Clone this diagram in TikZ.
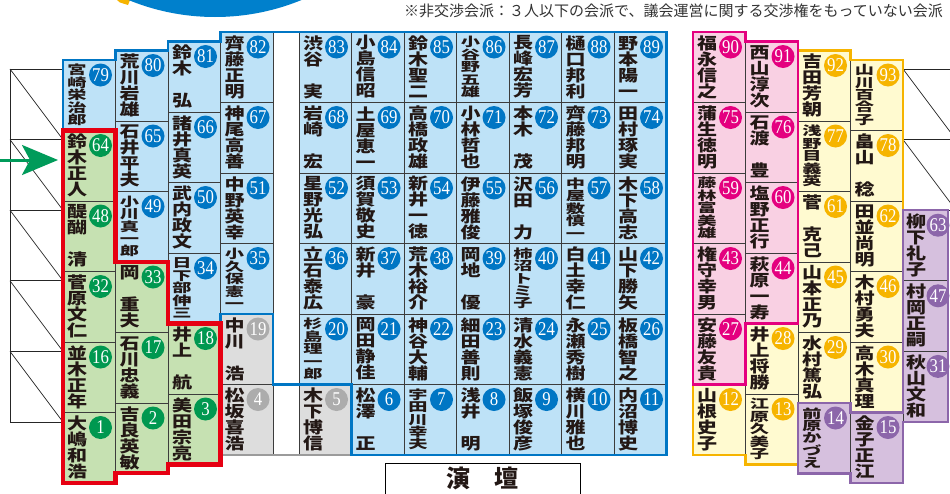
\documentclass[tikz,border=0pt]{standalone}
\usepackage{fontspec}
\usetikzlibrary{arrows.meta}
\newfontfamily\jpn{Noto Sans CJK JP}[FakeStretch=1.25]
\newfontfamily\jpf{Noto Sans CJK JP}[FakeStretch=1.55]
\newfontfamily\jpp{Noto Sans CJK JP}
\newfontfamily\numf{Liberation Serif}[FakeStretch=0.86]
\definecolor{fbl}{RGB}{190,226,247}
\definecolor{cbl}{RGB}{0,118,196}
\definecolor{fgr}{RGB}{198,225,178}
\definecolor{cgr}{RGB}{0,152,80}
\definecolor{fgy}{RGB}{221,221,221}
\definecolor{cgy}{RGB}{172,172,172}
\definecolor{fpk}{RGB}{249,208,227}
\definecolor{cpk}{RGB}{228,0,127}
\definecolor{fyl}{RGB}{255,250,208}
\definecolor{cyl}{RGB}{246,180,0}
\definecolor{fpu}{RGB}{214,192,222}
\definecolor{cpu}{RGB}{140,102,170}
\definecolor{lnred}{RGB}{230,0,18}
\definecolor{cellln}{RGB}{60,60,60}
\definecolor{inkc}{RGB}{35,24,21}
\definecolor{arrg}{RGB}{0,155,90}
\definecolor{topbl}{RGB}{0,128,204}
\tikzset{
  cell/.style={draw=cellln, line width=0.8pt, minimum width=52.5, minimum height=70.5, inner sep=0, outer sep=0},
  sbl/.style={cell, fill=fbl}, sgr/.style={cell, fill=fgr}, sgy/.style={cell, fill=fgy},
  spk/.style={cell, fill=fpk}, syl/.style={cell, fill=fyl}, spu/.style={cell, fill=fpu},
  nm/.style={align=center, inner sep=0, text=inkc, font=\jpn\bfseries\fontsize{16}{16}\selectfont},
  nmf/.style={align=center, inner sep=0, text=inkc, font=\jpf\bfseries\fontsize{12.4}{12.4}\selectfont},
  num/.style={circle, inner sep=0, minimum size=23, text=white, font=\numf\fontsize{19.5}{19.5}\selectfont},
  hatch/.style={draw=black!85, line width=0.7pt},
  outl/.style={line width=2.2pt, line join=miter},
}
% #1 x left, #2 column top, #3 row, #4 number, #5 kind, #6 name style, #7 name
\newcommand\mkseat[7]{%
  \node[s#5] (c#4) at ({#1+26.25},{#2+(#3-1)*70.5+35.25}) {};
  \node[#6] (t#4) at ({#1+14},{#2+(#3-1)*70.5+35}) {#7};
  \node[num, fill=c#5] (n#4) at ({#1+37.5},{#2+(#3-1)*70.5+15}) {#4};
}
\begin{document}
\begin{tikzpicture}[x=1pt,y=-1pt]
\useasboundingbox (0,0) rectangle (950,493);
\clip (0,0) rectangle (950,493);
\fill[white] (0,0) rectangle (950,493);
% top decoration
\fill[cyl] (117,0) -- (130,0) -- (128,5) -- (120,2.5) -- cycle;
\fill[topbl] (215,-211) circle[radius=228pt];
% hatched side boxes
\foreach \k in {0,...,4} {
  \draw[hatch] (10,{69+\k*70.6}) rectangle (63,{69+(\k+1)*70.6});
  \draw[hatch] (10,{69+\k*70.6}) -- (63,{69+(\k+1)*70.6});
}
\foreach \k in {0,1} {
  \draw[hatch] (903,{69+\k*70.6}) rectangle (956,{69+(\k+1)*70.6});
  \draw[hatch] (903,{69+\k*70.6}) -- (956,{69+(\k+1)*70.6});
}
% arrow
\coordinate (arrS) at (0,160);
\coordinate (arrE) at (58,160);
\draw[arrg, line width=3pt, -{Stealth[length=36pt,width=30pt,inset=8pt]}] (arrS) -- (arrE);
% column A
\mkseat{63}{60}{1}{79}{bl}{nmf}{宮\\崎\\栄\\治\\郎}
\mkseat{63}{60}{2}{64}{gr}{nm}{鈴\\木\\正\\人}
\mkseat{63}{60}{3}{48}{gr}{nm}{醍\\醐\\　\\清}
\mkseat{63}{60}{4}{32}{gr}{nm}{菅\\原\\文\\仁}
\mkseat{63}{60}{5}{16}{gr}{nm}{並\\木\\正\\年}
\mkseat{63}{60}{6}{1}{gr}{nm}{大\\嶋\\和\\浩}
% column B
\mkseat{115.5}{50.5}{1}{80}{bl}{nm}{荒\\川\\岩\\雄}
\mkseat{115.5}{50.5}{2}{65}{bl}{nm}{石\\井\\平\\夫}
\mkseat{115.5}{50.5}{3}{49}{bl}{nmf}{小\\川\\真\\一\\郎}
\mkseat{115.5}{50.5}{4}{33}{gr}{nm}{岡\\　\\重\\夫}
\mkseat{115.5}{50.5}{5}{17}{gr}{nm}{石\\川\\忠\\義}
\mkseat{115.5}{50.5}{6}{2}{gr}{nm}{吉\\良\\英\\敏}
% column C
\mkseat{168}{41.5}{1}{81}{bl}{nm}{鈴\\木\\　\\弘}
\mkseat{168}{41.5}{2}{66}{bl}{nm}{諸\\井\\真\\英}
\mkseat{168}{41.5}{3}{50}{bl}{nm}{武\\内\\政\\文}
\mkseat{168}{41.5}{4}{34}{bl}{nmf}{日\\下\\部\\伸\\三}
\mkseat{168}{41.5}{5}{18}{gr}{nm}{井\\上\\　\\航}
\mkseat{168}{41.5}{6}{3}{gr}{nm}{美\\田\\宗\\亮}
% column D
\mkseat{220.5}{32}{1}{82}{bl}{nm}{齊\\藤\\正\\明}
\mkseat{220.5}{32}{2}{67}{bl}{nm}{神\\尾\\高\\善}
\mkseat{220.5}{32}{3}{51}{bl}{nm}{中\\野\\英\\幸}
\mkseat{220.5}{32}{4}{35}{bl}{nmf}{小\\久\\保\\憲\\一}
\mkseat{220.5}{32}{5}{19}{gy}{nm}{中\\川\\　\\浩}
\mkseat{220.5}{32}{6}{4}{gy}{nm}{松\\坂\\喜\\浩}
% column E
\mkseat{299}{32}{1}{83}{bl}{nm}{渋\\谷\\　\\実}
\mkseat{299}{32}{2}{68}{bl}{nm}{岩\\崎\\　\\宏}
\mkseat{299}{32}{3}{52}{bl}{nm}{星\\野\\光\\弘}
\mkseat{299}{32}{4}{36}{bl}{nm}{立\\石\\泰\\広}
\mkseat{299}{32}{5}{20}{bl}{nmf}{杉\\島\\理\\一\\郎}
\mkseat{299}{32}{6}{5}{gy}{nm}{木\\下\\博\\信}
% column F
\mkseat{351.5}{32}{1}{84}{bl}{nm}{小\\島\\信\\昭}
\mkseat{351.5}{32}{2}{69}{bl}{nm}{土\\屋\\恵\\一}
\mkseat{351.5}{32}{3}{53}{bl}{nm}{須\\賀\\敬\\史}
\mkseat{351.5}{32}{4}{37}{bl}{nm}{新\\井\\　\\豪}
\mkseat{351.5}{32}{5}{21}{bl}{nm}{岡\\田\\静\\佳}
\mkseat{351.5}{32}{6}{6}{bl}{nm}{松\\澤\\　\\正}
% column G
\mkseat{404}{32}{1}{85}{bl}{nm}{鈴\\木\\聖\\二}
\mkseat{404}{32}{2}{70}{bl}{nm}{高\\橋\\政\\雄}
\mkseat{404}{32}{3}{54}{bl}{nm}{新\\井\\一\\徳}
\mkseat{404}{32}{4}{38}{bl}{nm}{荒\\木\\裕\\介}
\mkseat{404}{32}{5}{22}{bl}{nm}{神\\谷\\大\\輔}
\mkseat{404}{32}{6}{7}{bl}{nmf}{宇\\田\\川\\幸\\夫}
% column H
\mkseat{456.5}{32}{1}{86}{bl}{nmf}{小\\谷\\野\\五\\雄}
\mkseat{456.5}{32}{2}{71}{bl}{nm}{小\\林\\哲\\也}
\mkseat{456.5}{32}{3}{55}{bl}{nm}{伊\\藤\\雅\\俊}
\mkseat{456.5}{32}{4}{39}{bl}{nm}{岡\\地\\　\\優}
\mkseat{456.5}{32}{5}{23}{bl}{nm}{細\\田\\善\\則}
\mkseat{456.5}{32}{6}{8}{bl}{nm}{浅\\井\\　\\明}
% column I
\mkseat{509}{32}{1}{87}{bl}{nm}{長\\峰\\宏\\芳}
\mkseat{509}{32}{2}{72}{bl}{nm}{本\\木\\　\\茂}
\mkseat{509}{32}{3}{56}{bl}{nm}{沢\\田\\　\\力}
\mkseat{509}{32}{4}{40}{bl}{nmf}{柿\\沼\\ト\\ミ\\子}
\mkseat{509}{32}{5}{24}{bl}{nm}{清\\水\\義\\憲}
\mkseat{509}{32}{6}{9}{bl}{nm}{飯\\塚\\俊\\彦}
% column J
\mkseat{561.5}{32}{1}{88}{bl}{nm}{樋\\口\\邦\\利}
\mkseat{561.5}{32}{2}{73}{bl}{nm}{齊\\藤\\邦\\明}
\mkseat{561.5}{32}{3}{57}{bl}{nmf}{中\\屋\\敷\\慎\\一}
\mkseat{561.5}{32}{4}{41}{bl}{nm}{白\\土\\幸\\仁}
\mkseat{561.5}{32}{5}{25}{bl}{nm}{永\\瀬\\秀\\樹}
\mkseat{561.5}{32}{6}{10}{bl}{nm}{横\\川\\雅\\也}
% column K
\mkseat{614}{32}{1}{89}{bl}{nm}{野\\本\\陽\\一}
\mkseat{614}{32}{2}{74}{bl}{nm}{田\\村\\琢\\実}
\mkseat{614}{32}{3}{58}{bl}{nm}{木\\下\\高\\志}
\mkseat{614}{32}{4}{42}{bl}{nm}{山\\下\\勝\\矢}
\mkseat{614}{32}{5}{26}{bl}{nm}{板\\橋\\智\\之}
\mkseat{614}{32}{6}{11}{bl}{nm}{内\\沼\\博\\史}
% column L
\mkseat{693}{32}{1}{90}{pk}{nm}{福\\永\\信\\之}
\mkseat{693}{32}{2}{75}{pk}{nm}{蒲\\生\\徳\\明}
\mkseat{693}{32}{3}{59}{pk}{nmf}{藤\\林\\富\\美\\雄}
\mkseat{693}{32}{4}{43}{pk}{nm}{権\\守\\幸\\男}
\mkseat{693}{32}{5}{27}{pk}{nm}{安\\藤\\友\\貴}
\mkseat{693}{32}{6}{12}{yl}{nm}{山\\根\\史\\子}
% column M
\mkseat{745.5}{41.5}{1}{91}{pk}{nm}{西\\山\\淳\\次}
\mkseat{745.5}{41.5}{2}{76}{pk}{nm}{石\\渡\\　\\豊}
\mkseat{745.5}{41.5}{3}{60}{pk}{nm}{塩\\野\\正\\行}
\mkseat{745.5}{41.5}{4}{44}{pk}{nm}{萩\\原\\一\\寿}
\mkseat{745.5}{41.5}{5}{28}{yl}{nm}{井\\上\\将\\勝}
\mkseat{745.5}{41.5}{6}{13}{yl}{nmf}{江\\原\\久\\美\\子}
% column N
\mkseat{798}{50.5}{1}{92}{yl}{nm}{吉\\田\\芳\\朝}
\mkseat{798}{50.5}{2}{77}{yl}{nmf}{浅\\野\\目\\義\\英}
\mkseat{798}{50.5}{3}{61}{yl}{nm}{菅\\　\\克\\己}
\mkseat{798}{50.5}{4}{45}{yl}{nm}{山\\本\\正\\乃}
\mkseat{798}{50.5}{5}{29}{yl}{nm}{水\\村\\篤\\弘}
\mkseat{798}{50.5}{6}{14}{pu}{nmf}{前\\原\\か\\づ\\え}
% column O
\mkseat{850.5}{60}{1}{93}{yl}{nmf}{山\\川\\百\\合\\子}
\mkseat{850.5}{60}{2}{78}{yl}{nm}{畠\\山\\　\\稔}
\mkseat{850.5}{60}{3}{62}{yl}{nm}{田\\並\\尚\\明}
\mkseat{850.5}{60}{4}{46}{yl}{nm}{木\\村\\勇\\夫}
\mkseat{850.5}{60}{5}{30}{yl}{nm}{高\\木\\真\\理}
\mkseat{850.5}{60}{6}{15}{pu}{nm}{金\\子\\正\\江}
% column P
\node[spu, minimum width=45, minimum height=70.6] (c63) at (925.5,245.5) {};
\node[nm] (t63) at (916,245.3) {柳\\下\\礼\\子};
\node[num, fill=cpu] (n63) at (938,225.2) {63};
\node[spu, minimum width=45, minimum height=70.6] (c47) at (925.5,316.1) {};
\node[nm] (t47) at (916,315.9) {村\\岡\\正\\嗣};
\node[num, fill=cpu] (n47) at (938,295.8) {47};
\node[spu, minimum width=45, minimum height=70.6] (c31) at (925.5,386.7) {};
\node[nm] (t31) at (916,386.5) {秋\\山\\文\\和};
\node[num, fill=cpu] (n31) at (938,366.4) {31};
% group outlines
\draw[outl, draw=cgy!90!black] (220.5,314) -- (273,314) -- (273,384.5) -- (351.5,384.5) -- (351.5,455) -- (220.5,455) -- cycle;
\draw[outl, draw=cbl] (63,60) -- (115.5,60) -- (115.5,50.5) -- (168,50.5) -- (168,41.5) -- (220.5,41.5) -- (220.5,32) -- (666.5,32) -- (666.5,455) -- (351.5,455) -- (351.5,384.5) -- (273,384.5) -- (273,314) -- (220.5,314) -- (220.5,323.5) -- (168,323.5) -- (168,262) -- (115.5,262) -- (115.5,130.5) -- (63,130.5) -- cycle;
\draw[line width=4.5pt, line join=miter, draw=lnred] (63,130.5) -- (115.5,130.5) -- (115.5,262) -- (168,262) -- (168,323.5) -- (220.5,323.5) -- (220.5,464.5) -- (168,464.5) -- (168,473) -- (115.5,473) -- (115.5,483) -- (63,483) -- cycle;
\draw[outl, draw=cyl] (798,50.5) -- (850.5,50.5) -- (850.5,60) -- (903,60) -- (903,412.5) -- (850.5,412.5) -- (850.5,403) -- (798,403) -- (798,464.5) -- (745.5,464.5) -- (745.5,455) -- (693,455) -- (693,384.5) -- (745.5,384.5) -- (745.5,323.5) -- (798,323.5) -- cycle;
\draw[outl, draw=cpu] (798,403) -- (850.5,403) -- (850.5,412.5) -- (903,412.5) -- (903,210.2) -- (948,210.2) -- (948,422) -- (903,422) -- (903,483) -- (850.5,483) -- (850.5,473.5) -- (798,473.5) -- cycle;
\draw[outl, draw=cpk] (693,32) -- (745.5,32) -- (745.5,41.5) -- (798,41.5) -- (798,323.5) -- (745.5,323.5) -- (745.5,384.5) -- (693,384.5) -- cycle;
% podium
\node[draw=black, line width=1.2pt, fill=white, minimum width=195, minimum height=50, anchor=north west, inner sep=0] (podium) at (385,463) {};
\node[inner sep=0, text=inkc, font=\jpp\bfseries\fontsize{24}{24}\selectfont] (podlbl) at (482.5,478) {演　壇};
% note
\node[anchor=east, inner sep=0, text=black!80, font=\jpp\fontsize{15}{15}\selectfont] (note) at (943,11) {※非交渉会派：３人以下の会派で、議会運営に関する交渉権をもっていない会派};
\end{tikzpicture}
\end{document}
